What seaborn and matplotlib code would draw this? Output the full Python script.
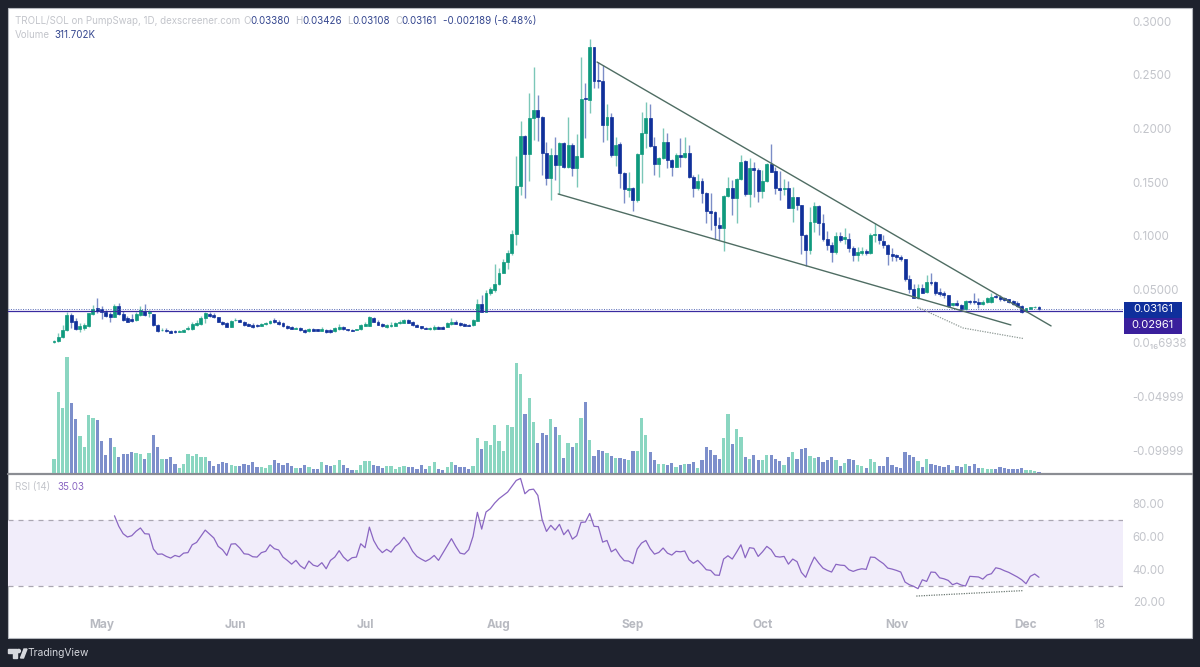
import numpy as np
import pandas as pd
import matplotlib
matplotlib.use('Agg')
import matplotlib.pyplot as plt
from matplotlib.patches import Rectangle, Polygon, Circle
import seaborn as sns

start_date = '2025-04-20'

opens = [
    .0005, .0021, .0059, .0121, .0261, .0205, .0128, .0140, .0159, .0271,
    .0327, .0314, .0292, .0268, .0245, .0345, .0271, .0230, .0221, .0215,
    .0261, .0301, .0283, .0268, .0168, .0118, .0121, .0115, .0112, .0107,
    .0105, .0128, .0128, .0168, .0177, .0230, .0271, .0261, .0240, .0199,
    .0189, .0152, .0215, .0215, .0199, .0174, .0171, .0168, .0161, .0177,
    .0184, .0215, .0193, .0184, .0159, .0146, .0133, .0143, .0121, .0112,
    .0128, .0128, .0115, .0121, .0118, .0109, .0128, .0146, .0128, .0121,
    .0124, .0128, .0159, .0159, .0236, .0199, .0177, .0152, .0159, .0161,
    .0184, .0187, .0215, .0196, .0171, .0156, .0140, .0135, .0128, .0152,
    .0152, .0152, .0180, .0199, .0184, .0174, .0168, .0168, .0208, .0364,
    .0292, .0464, .0494, .0550, .0656, .0759, .0837, .1017, .1465, .1931,
    .1763, .2096, .2174, .2106, .1770, .1537, .1754, .1661, .1863, .1645,
    .1847, .1630, .1738, .2286, .2267, .2759, .2454, .2447, .2034, .2106,
    .1754, .1854, .1589, .1427, .1443, .1334, .1763, .1956, .2102, .1838,
    .1667, .1723, .1875, .1707, .1645, .1754, .1733, .1770, .1552, .1443,
    .1514, .1402, .1232, .1225, .1101, .1076, .1374, .1443, .1356, .1527,
    .1701, .1387, .1630, .1614, .1418, .1514, .1667, .1605, .1443, .1437,
    .1443, .1260, .1359, .1288, .1008, .0868, .1126, .1278, .1117, .0968,
    .0914, .0849, .0998, .0968, .0968, .0884, .0821, .0843, .0861, .0837,
    .1008, .1014, .0954, .0914, .0828, .0818, .0800, .0781, .0594, .0507,
    .0423, .0516, .0479, .0566, .0572, .0479, .0469, .0445, .0355, .0376,
    .0355, .0314, .0395, .0392, .0383, .0364, .0380, .0385, .0441, .0432,
    .0420, .0408, .0389, .0370, .0345, .0295, .0320, .0331, .0338,
]
closes = [
    .0021, .0059, .0121, .0261, .0199, .0128, .0159, .0168, .0277, .0314,
    .0301, .0289, .0252, .0245, .0348, .0271, .0215, .0199, .0205, .0271,
    .0308, .0261, .0292, .0168, .0115, .0124, .0112, .0096, .0103, .0112,
    .0121, .0137, .0174, .0189, .0230, .0277, .0252, .0240, .0199, .0177,
    .0152, .0208, .0219, .0199, .0168, .0161, .0152, .0159, .0177, .0189,
    .0202, .0196, .0174, .0159, .0137, .0133, .0140, .0121, .0103, .0133,
    .0115, .0115, .0131, .0100, .0103, .0137, .0146, .0128, .0118, .0115,
    .0128, .0165, .0174, .0240, .0199, .0171, .0159, .0171, .0171, .0184,
    .0199, .0215, .0189, .0168, .0152, .0140, .0131, .0140, .0152, .0133,
    .0133, .0184, .0199, .0180, .0165, .0159, .0159, .0215, .0364, .0292,
    .0469, .0501, .0550, .0656, .0759, .0837, .1017, .1465, .1931, .1763,
    .2096, .2174, .2106, .1770, .1537, .1754, .1661, .1863, .1645, .1847,
    .1630, .1745, .2279, .2277, .2759, .2447, .2444, .2034, .2106, .1754,
    .1847, .1589, .1434, .1443, .1334, .1763, .1956, .2102, .1838, .1667,
    .1723, .1875, .1707, .1645, .1754, .1733, .1770, .1552, .1449, .1514,
    .1402, .1232, .1216, .1101, .1076, .1374, .1443, .1356, .1527, .1692,
    .1387, .1630, .1614, .1421, .1514, .1667, .1598, .1443, .1427, .1446,
    .1260, .1359, .1288, .1008, .0868, .1126, .1278, .1117, .0968, .0914,
    .0849, .0998, .0961, .0987, .0884, .0821, .0846, .0861, .0837, .1008,
    .1014, .0961, .0914, .0828, .0812, .0800, .0781, .0594, .0501, .0423,
    .0516, .0469, .0566, .0557, .0464, .0457, .0445, .0348, .0370, .0355,
    .0314, .0395, .0385, .0383, .0364, .0385, .0417, .0426, .0426, .0413,
    .0401, .0385, .0364, .0345, .0292, .0324, .0333, .0338, .0316,
]
highs = [
    .0028, .0093, .0168, .0289, .0280, .0233, .0187, .0187, .0280, .0355,
    .0420, .0345, .0308, .0289, .0364, .0373, .0299, .0252, .0271, .0289,
    .0345, .0364, .0308, .0271, .0177, .0140, .0140, .0121, .0117, .0117,
    .0131, .0159, .0196, .0215, .0252, .0289, .0289, .0280, .0243, .0205,
    .0196, .0215, .0233, .0224, .0205, .0187, .0187, .0177, .0187, .0196,
    .0215, .0233, .0215, .0196, .0168, .0159, .0149, .0149, .0131, .0140,
    .0140, .0131, .0149, .0131, .0131, .0149, .0177, .0163, .0131, .0126,
    .0135, .0177, .0196, .0252, .0245, .0215, .0187, .0177, .0199, .0196,
    .0215, .0224, .0227, .0205, .0177, .0159, .0149, .0149, .0168, .0159,
    .0159, .0196, .0233, .0215, .0196, .0187, .0173, .0224, .0411, .0448,
    .0494, .0525, .0734, .0697, .0781, .0868, .1054, .1745, .2074, .1941,
    .2330, .2578, .2311, .2118, .1878, .1817, .1919, .1878, .1878, .2106,
    .1866, .1950, .2666, .2423, .2834, .2762, .2619, .2594, .2230, .2143,
    .1925, .1878, .1598, .1598, .1458, .1775, .2158, .2246, .2230, .1925,
    .1733, .2003, .1956, .1717, .1773, .1910, .1919, .1847, .1567, .1574,
    .1537, .1409, .1397, .1234, .1178, .1381, .1552, .1521, .1537, .1754,
    .1707, .1726, .1692, .1630, .1612, .1682, .1857, .1645, .1608, .1527,
    .1508, .1458, .1365, .1288, .1017, .1272, .1318, .1288, .1201, .1048,
    .0945, .1038, .1038, .1070, .1023, .0905, .0893, .0893, .0874, .1023,
    .1117, .1017, .1008, .0924, .0884, .0828, .0821, .0787, .0634, .0554,
    .0554, .0550, .0634, .0650, .0578, .0510, .0488, .0448, .0376, .0401,
    .0364, .0401, .0401, .0464, .0417, .0401, .0432, .0464, .0457, .0445,
    .0429, .0413, .0401, .0392, .0355, .0329, .0339, .0345, .0343,
]
lows = [
    .0001, .0012, .0047, .0112, .0140, .0121, .0103, .0121, .0149, .0261,
    .0280, .0227, .0243, .0196, .0243, .0261, .0205, .0196, .0196, .0205,
    .0252, .0252, .0243, .0159, .0103, .0112, .0103, .0093, .0093, .0103,
    .0103, .0121, .0121, .0159, .0168, .0187, .0243, .0233, .0196, .0168,
    .0149, .0149, .0205, .0196, .0159, .0159, .0140, .0149, .0159, .0168,
    .0177, .0187, .0168, .0149, .0131, .0131, .0131, .0112, .0093, .0107,
    .0112, .0112, .0112, .0093, .0093, .0103, .0121, .0121, .0112, .0112,
    .0121, .0121, .0154, .0154, .0196, .0168, .0149, .0140, .0149, .0159,
    .0177, .0182, .0187, .0163, .0149, .0135, .0126, .0121, .0121, .0131,
    .0131, .0149, .0168, .0177, .0159, .0154, .0154, .0163, .0205, .0289,
    .0289, .0448, .0479, .0541, .0650, .0688, .0821, .0914, .1381, .1353,
    .1514, .1894, .1887, .1567, .1474, .1334, .1521, .1390, .1633, .1633,
    .1558, .1458, .1735, .1910, .2149, .2376, .2379, .1878, .1894, .1738,
    .1651, .1446, .1306, .1365, .1234, .1318, .1495, .1817, .1826, .1567,
    .1546, .1717, .1630, .1558, .1642, .1645, .1723, .1537, .1359, .1427,
    .1309, .1122, .1054, .0968, .0961, .0861, .1365, .1194, .1117, .1521,
    .1374, .1266, .1365, .1318, .1356, .1502, .1595, .1390, .1334, .1381,
    .1257, .1126, .1241, .0830, .0721, .0830, .1038, .1008, .0954, .0868,
    .0759, .0828, .0945, .0924, .0852, .0762, .0768, .0821, .0821, .0830,
    .0945, .0924, .0889, .0728, .0768, .0762, .0765, .0581, .0469, .0417,
    .0411, .0464, .0469, .0541, .0448, .0441, .0417, .0339, .0345, .0345,
    .0301, .0308, .0364, .0364, .0327, .0355, .0370, .0376, .0417, .0395,
    .0392, .0376, .0357, .0336, .0283, .0289, .0317, .0327, .0311,
]
# hauteur relative des barres de volume (pas d'echelle sur le graphique)
volumes = [
    14, 81, 65, 116, 70, 54, 37, 26, 58, 55, 53, 32, 18, 35, 26, 16, 19, 19, 21, 20,
    19, 14, 20, 38, 26, 14, 14, 16, 9, 5, 9, 19, 17, 19, 16, 16, 12, 7, 9, 11,
    10, 8, 7, 7, 9, 8, 11, 6, 6, 5, 8, 13, 10, 8, 10, 7, 5, 5, 8, 6,
    4, 4, 11, 8, 7, 8, 13, 8, 5, 3, 3, 8, 12, 12, 8, 7, 5, 7, 7, 4,
    6, 7, 6, 6, 4, 8, 4, 7, 11, 4, 3, 6, 11, 8, 6, 6, 4, 7, 35, 24,
    32, 28, 48, 32, 22, 48, 46, 110, 99, 59, 75, 51, 30, 40, 38, 54, 46, 38, 15, 30,
    26, 30, 55, 71, 33, 17, 23, 22, 20, 17, 15, 15, 14, 13, 22, 22, 55, 38, 21, 13,
    9, 9, 8, 10, 6, 8, 9, 9, 11, 5, 13, 26, 23, 18, 14, 35, 59, 29, 44, 36,
    16, 14, 18, 13, 13, 18, 18, 14, 12, 8, 16, 21, 14, 24, 25, 17, 15, 16, 11, 13,
    16, 13, 7, 10, 14, 13, 8, 7, 5, 14, 11, 7, 7, 16, 8, 6, 5, 21, 18, 16,
    12, 6, 14, 9, 8, 7, 6, 8, 3, 7, 6, 9, 7, 9, 5, 5, 4, 4, 4, 6,
    5, 4, 4, 4, 5, 3, 3, 2, 1.5,
]
rsi_first_day = 14
rsi_values = [
    72.4, 66.0, 61.5, 59.5, 60.3, 63.0, 65.0, 61.5, 61.3, 52.2, 49.0, 49.2, 47.7, 46.7, 48.3, 47.5,
    49.7, 50.0, 54.8, 56.2, 59.9, 63.7, 61.3, 58.9, 53.8, 51.8, 48.3, 55.2, 55.4, 52.8, 49.3, 49.0,
    47.5, 47.3, 50.0, 50.8, 54.8, 52.4, 51.6, 47.3, 45.3, 43.0, 45.3, 42.0, 40.2, 44.9, 42.4, 41.6,
    43.9, 40.2, 45.3, 47.3, 51.2, 47.3, 44.9, 46.9, 47.3, 55.4, 53.0, 65.5, 57.4, 52.8, 50.0, 52.0,
    50.3, 53.8, 55.8, 59.3, 55.8, 50.8, 47.7, 46.1, 44.7, 46.1, 48.3, 45.3, 49.7, 54.2, 58.5, 53.8,
    49.7, 49.1, 51.8, 59.9, 74.5, 64.3, 74.7, 76.7, 80.1, 82.8, 84.8, 86.8, 90.3, 93.9, 95.1, 85.8,
    88.2, 88.6, 84.8, 70.0, 62.9, 66.6, 63.7, 67.2, 60.9, 63.9, 58.2, 60.3, 68.4, 68.6, 73.8, 66.0,
    65.8, 56.4, 57.4, 50.5, 52.2, 48.1, 45.1, 44.9, 43.3, 52.2, 55.8, 57.4, 52.4, 49.1, 50.1, 52.8,
    49.7, 48.5, 50.8, 50.5, 51.0, 45.7, 43.5, 45.3, 42.6, 39.6, 39.2, 36.4, 36.2, 46.1, 48.1, 46.1,
    50.3, 54.8, 46.9, 53.0, 52.6, 47.7, 50.5, 53.8, 51.8, 47.7, 47.3, 47.7, 43.0, 46.1, 44.5, 38.0,
    35.0, 41.6, 47.3, 43.7, 40.6, 39.2, 38.2, 42.9, 42.4, 42.2, 39.6, 38.6, 39.6, 40.2, 39.8, 47.3,
    47.1, 45.1, 43.3, 40.6, 40.0, 39.2, 38.2, 32.1, 30.5, 29.5, 28.1, 33.5, 32.5, 38.2, 38.0, 34.7,
    34.1, 33.1, 30.5, 31.5, 30.3, 29.7, 35.6, 35.4, 35.2, 33.9, 36.4, 37.2, 40.8, 40.2, 39.0, 38.0,
    36.6, 35.2, 33.5, 31.1, 35.6, 37.0, 35.03,
]

price_ticks = [0.30, 0.25, 0.20, 0.15, 0.10, 0.05, 0.0, -0.05, -0.10]
price_tick_labels = ['0.3000', '0.2500', '0.2000', '0.1500', '0.1000', '0.05000',
                     '0.0₁₆6938', '-0.04999', '-0.09999']
rsi_ticks = [80, 60, 40, 20]
rsi_tick_labels = ['80.00', '60.00', '40.00', '20.00']
month_dates = ['2025-05-01', '2025-06-01', '2025-07-01', '2025-08-01',
               '2025-09-01', '2025-10-01', '2025-11-01', '2025-12-01', '2025-12-18']
month_labels = ['May', 'Jun', 'Jul', 'Aug', 'Sep', 'Oct', 'Nov', 'Dec', '18']

# lignes tracees a la main sur le graphique
upper_days, upper_prices = [125.7, 230.8], [.2621, .0159]
lower_days, lower_prices = [116.7, 221.5], [.1390, .0168]
div_days, div_prices = [199.8, 210.4, 224.3], [.0336, .0140, .0042]
rsi_div_days, rsi_div_values = [199.6, 224.3], [23.6, 26.9]

last_close = 0.03161
other_price = 0.02961

GREEN = '#0f9a7e'
BLUE = '#10309a'
VOL_GREEN = '#8ad6c1'
VOL_BLUE = '#7d8fcb'
GREY = '#c3c5cb'
INK = '#34468f'
PURPLE = '#8a66c2'

W, H = 1200, 667

df = pd.DataFrame({'open': opens, 'high': highs, 'low': lows, 'close': closes, 'volume': volumes})
df['day'] = np.arange(len(df))
df['direction'] = np.where(df['close'] >= df['open'], 'up', 'down')
df_up = df[df['direction'] == 'up']
df_down = df[df['direction'] == 'down']
df_rsi = pd.DataFrame({'day': np.arange(rsi_first_day, rsi_first_day + len(rsi_values)), 'rsi': rsi_values})
month_days = (pd.to_datetime(month_dates) - pd.Timestamp(start_date)).days

sns.set_theme(style='white')
plt.rcParams['font.family'] = ['Inter', 'DejaVu Sans']

fig = plt.figure(figsize=(12, 6.67), dpi=100, facecolor='#1e222d')


def axes_px(left, top, right, bottom, **kw):
    return fig.add_axes([left / W, 1 - bottom / H, (right - left) / W, (bottom - top) / H], **kw)


def text_px(x, y, s, **kw):
    kw.setdefault('fontsize', 7)
    kw.setdefault('va', 'center')
    return fig.text(x / W, 1 - y / H, s, **kw)


# fond blanc, logo et separateur
bg = axes_px(0, 0, W, H)
bg.set_xlim(0, W)
bg.set_ylim(H, 0)
bg.axis('off')
bg.add_patch(Rectangle((8, 8), 1184, 630, facecolor='white', edgecolor='#b4b7bd', lw=0.8))
bg.plot([8, 1192], [473.5, 473.5], color='#8b8d93', lw=1.6)
bg.add_patch(Polygon([(8, 649), (16.5, 649), (16.5, 658), (13, 658), (13, 652.5), (8, 652.5)], color='#d6d8dd'))
bg.add_patch(Circle((18.8, 651), 1.6, color='#d6d8dd'))
bg.add_patch(Polygon([(20.5, 658), (24, 649), (27, 649), (23.5, 658)], color='#d6d8dd'))

# volumes, meme zone que les prix
vol_ax = axes_px(8, 8, 1123, 473)
sns.barplot(data=df, x='day', y='volume', hue='direction', orient='x', native_scale=True, dodge=False,
            palette={'up': VOL_GREEN, 'down': VOL_BLUE}, hue_order=['up', 'down'], width=0.75,
            errorbar=None, saturation=1, linewidth=0, legend=False, ax=vol_ax)
vol_ax.set_xlim(-10.65, 247.45)
vol_ax.set_ylim(0, 465)
vol_ax.axis('off')

# prix
ax = axes_px(8, 8, 1123, 473)
ax.patch.set_alpha(0)
ax.axhline(last_close, color='#5a6cb8', lw=0.7, ls=(0, (1, 1.5)))
ax.axhline(other_price, color='#3a2ba0', lw=0.9)
for part, col in [(df_up, GREEN), (df_down, BLUE)]:
    ax.vlines(part['day'], part['low'], part['high'], color=col, lw=1, alpha=0.55)
    ax.bar(part['day'], part['close'] - part['open'], bottom=part['open'], width=0.68,
           color=col, edgecolor=col, linewidth=0.5)
ax.plot(upper_days, upper_prices, color='#4f6d63', lw=1)
ax.plot(lower_days, lower_prices, color='#4f6d63', lw=1)
ax.plot(div_days, div_prices, color='#8f9a96', lw=0.9, ls=(0, (1, 1)))
ax.set_xlim(-10.65, 247.45)
ax.set_ylim(-0.1213, 0.3125)
ax.set_xticks([])
ax.yaxis.tick_right()
ax.set_yticks(price_ticks)
ax.set_yticklabels(price_tick_labels)
ax.tick_params(axis='y', length=0, pad=7, labelsize=8.3, labelcolor=GREY)
sns.despine(ax=ax, left=True, right=True, top=True, bottom=True)

# RSI
rsi_ax = axes_px(8, 475, 1123, 638)
rsi_ax.patch.set_alpha(0)
rsi_ax.axhspan(30, 70, color='#f1edfa', lw=0)
rsi_ax.axhline(70, color='#aaa6b2', lw=0.9, ls=(0, (4, 4)))
rsi_ax.axhline(30, color='#aaa6b2', lw=0.9, ls=(0, (4, 4)))
sns.lineplot(data=df_rsi, x='day', y='rsi', color=PURPLE, lw=0.9, ax=rsi_ax)
rsi_ax.plot(rsi_div_days, rsi_div_values, color='#6d7a74', lw=0.9, ls=(0, (1, 1)))
rsi_ax.set_xlim(-10.65, 247.45)
rsi_ax.set_ylim(-1.9, 97.2)
rsi_ax.set_xlabel('')
rsi_ax.set_ylabel('')
rsi_ax.yaxis.tick_right()
rsi_ax.set_yticks(rsi_ticks)
rsi_ax.set_yticklabels(rsi_tick_labels)
rsi_ax.tick_params(axis='y', length=0, pad=7, labelsize=8.3, labelcolor=GREY)
rsi_ax.set_xticks(month_days)
rsi_ax.set_xticklabels(month_labels, fontweight='bold')
rsi_ax.get_xticklabels()[-1].set_fontweight('normal')
rsi_ax.tick_params(axis='x', length=0, pad=-14, labelsize=8.5, labelcolor='#b8bac1')
sns.despine(ax=rsi_ax, left=True, right=True, top=True, bottom=True)

# etiquettes de prix
bg_labels = axes_px(0, 0, W, H)
bg_labels.set_xlim(0, W)
bg_labels.set_ylim(H, 0)
bg_labels.axis('off')
bg_labels.patch.set_alpha(0)
bg_labels.add_patch(Rectangle((1123.5, 301.5), 58.5, 16, color='#0f2f9c', lw=0))
bg_labels.add_patch(Rectangle((1123.5, 317.5), 58.5, 16, color='#3a1f9c', lw=0))
text_px(1153, 309.5, f'{last_close:.5f}', color='white', fontsize=8, ha='center')
text_px(1153, 325.5, f'{other_price:.5f}', color='white', fontsize=8, ha='center')

# textes du haut
text_px(15, 21, 'TROLL/SOL on PumpSwap, 1D, dexscreener.com', color=GREY)
for x_lab, lab, x_val, val in [(243, 'O', 250, '0.03380'), (295, 'H', 302, '0.03426'),
                               (347, 'L', 352, '0.03108'), (395, 'C', 401, '0.03161')]:
    text_px(x_lab, 21, lab, color=GREY)
    text_px(x_val, 21, val, color=INK)
text_px(443, 21, '-0.002189 (-6.48%)', color=INK)
text_px(15, 35, 'Volume', color=GREY)
text_px(54, 35, '311.702K', color=INK)
text_px(15, 487, 'RSI (14)', color=GREY)
text_px(57, 487, '35.03', color=PURPLE)
text_px(27.5, 653, 'TradingView', color='#d6d8dd', fontsize=7.4)

fig.savefig('out.png', dpi=100, facecolor=fig.get_facecolor())
